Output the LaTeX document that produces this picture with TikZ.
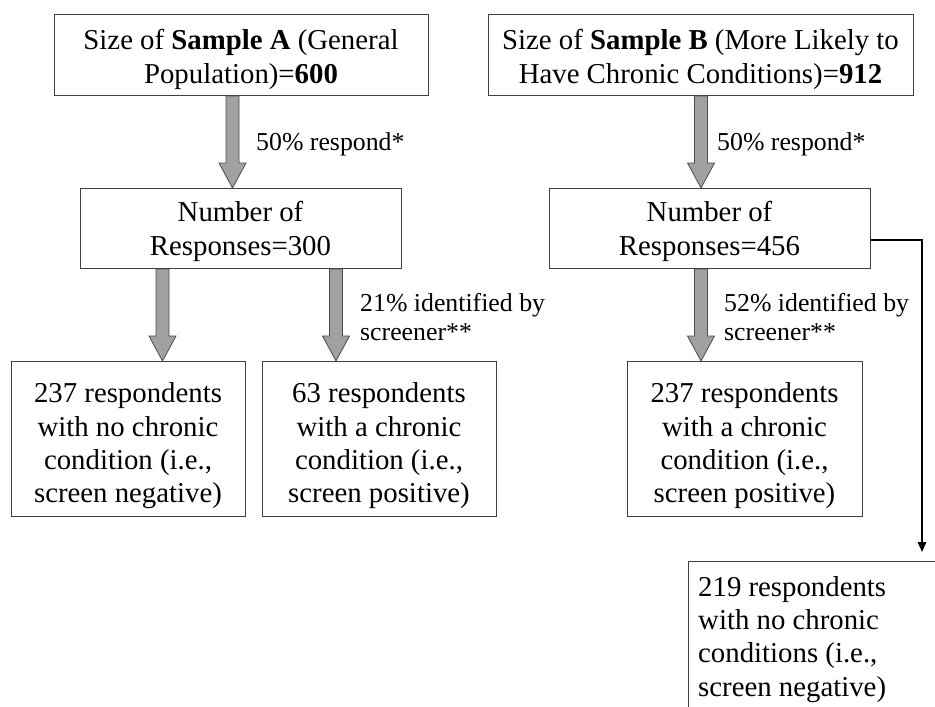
\documentclass[tikz,border=0pt]{standalone}
\usepackage{fontspec}
\setmainfont{Liberation Serif}
\usetikzlibrary{arrows.meta,calc}
\newcommand{\bigtxt}{\fontsize{28.8}{33.3}\selectfont}
\newcommand{\smalltxt}{\fontsize{25.8}{29.5}\selectfont}
\newcommand{\blkarrow}[3]{%
  \path (#1,0 |- #2.south) coordinate (batop) (#1,0 |- #3.north) coordinate (batip);
  \draw[blockarrow] ($(batop)+(-6.5,0)$) -- ($(batip)+(-6.5,-25)$) -- ($(batip)+(-13.5,-25)$)
    -- (batip) -- ($(batip)+(13.5,-25)$) -- ($(batip)+(6.5,-25)$) -- ($(batop)+(6.5,0)$) -- cycle;}
\begin{document}
\begin{tikzpicture}[x=1pt,y=-1pt,
  box/.style={draw=black!75, line width=1pt, fill=white, inner sep=0pt, anchor=north west},
  boxtext/.style={inner sep=0pt, align=center, font=\bigtxt, anchor=north},
  boxtextl/.style={inner sep=0pt, align=left, font=\bigtxt, anchor=north west},
  lbl/.style={inner sep=0pt, align=left, font=\smalltxt, anchor=north west},
  blockarrow/.style={draw=black!70, fill=black!37, line width=0.8pt, line join=miter},
  conn/.style={draw=black, line width=1.3pt}]
\useasboundingbox (0,0) rectangle (935,707);
\clip (0,0) rectangle (935,707);
\fill[white] (0,0) rectangle (935,707);

% boxes
\node[box, minimum width=374, minimum height=81] (A) at (54,14) {};
\node[box, minimum width=425, minimum height=81] (B) at (488,14) {};
\node[box, minimum width=321, minimum height=80] (A2) at (80,188) {};
\node[box, minimum width=321, minimum height=80] (B2) at (549,188) {};
\node[box, minimum width=234, minimum height=155] (A3) at (11,361) {};
\node[box, minimum width=234, minimum height=155] (A4) at (262,361) {};
\node[box, minimum width=235, minimum height=155] (B3) at (627,361) {};
\node[box, minimum width=300, minimum height=200] (C) at (688,561) {};

% box texts
\node[boxtext] (At) at (241,26.2) {\strut Size of \textbf{Sample A} (General\\Population)=\textbf{600}};
\node[boxtext] (Bt) at (700.5,26.2) {\strut Size of \textbf{Sample B} (More Likely to\\Have Chronic Conditions)=\textbf{912}};
\node[boxtext] (A2t) at (240.5,198.2) {\strut Number of\\Responses=300};
\node[boxtext] (B2t) at (709.5,198.2) {\strut Number of\\Responses=456};
\node[boxtext] (A3t) at (128,379.2) {\strut 237 respondents\\with no chronic\\condition (i.e.,\\screen negative)};
\node[boxtext] (A4t) at (379,379.2) {\strut 63 respondents\\with a chronic\\condition (i.e.,\\screen positive)};
\node[boxtext] (B3t) at (744.5,379.2) {\strut 237 respondents\\with a chronic\\condition (i.e.,\\screen positive)};
\node[boxtextl] (Ct) at (698,572.7) {\strut 219 respondents\\with no chronic\\conditions (i.e.,\\screen negative)};

% block arrows
\blkarrow{232.5}{A}{A2}
\blkarrow{701}{B}{B2}
\blkarrow{162.5}{A2}{A3}
\blkarrow{336}{A2}{A4}
\blkarrow{701}{B2}{B3}

% labels
\node[lbl] (l1) at (256,129.85) {\strut 50\% respond*};
\node[lbl] (l2) at (717,129.85) {\strut 50\% respond*};
\node[lbl] (l3) at (360,290.35) {\strut 21\% identified by\\screener**};
\node[lbl] (l4) at (724,290.35) {\strut 52\% identified by\\screener**};

% connector
\draw[conn, -{Triangle[length=10pt,width=8.5pt]}, shorten >=9pt] (B2.east |- 0,240) -| (922,0 |- C.north);
\end{tikzpicture}
\end{document}
